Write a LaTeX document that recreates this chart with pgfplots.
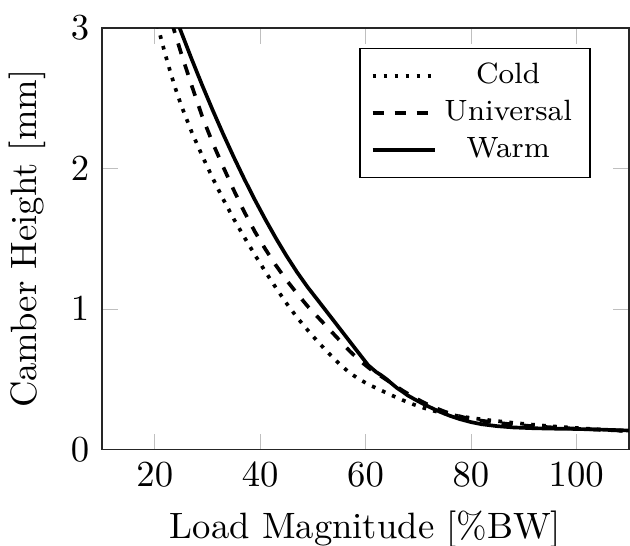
\documentclass[border=0pt]{standalone}
\usepackage{pgfplots}
\pgfplotsset{compat=1.18}
\begin{document}
\begin{tikzpicture}
\begin{axis}[
  scale only axis,
  width=143.6pt, height=114.9pt,
  xmin=10, xmax=110, ymin=0, ymax=3,
  xtick={20,40,60,80,100}, ytick={0,1,2,3},
  xlabel={Load Magnitude [\%BW]},
  ylabel={Camber Height [mm]},
  tick style={black!25},
  axis line style={black!85},
  legend style={font=\footnotesize, at={(0.928,0.953)}, anchor=north east, draw=black, row sep=-1pt},
]
\addplot[black, line width=1pt, dotted] coordinates {
(20,3.10)(21,2.95)(22,2.81)(23,2.68)(24,2.56)(25,2.45)(27,2.26)(29,2.09)(31,1.93)(33,1.78)(35,1.64)(37,1.51)(39,1.385)(41,1.265)(43,1.15)(45,1.04)(47,0.94)(49,0.85)(51,0.765)(53,0.685)(55,0.61)(57,0.545)(59,0.495)(61,0.455)(63,0.42)(65,0.385)(67,0.352)(69,0.322)(71,0.296)(73,0.274)(75,0.256)(77,0.242)(79,0.23)(82,0.215)(85,0.202)(88,0.19)(91,0.179)(95,0.166)(100,0.153)(105,0.141)(110,0.13)
};
\addlegendentry{Cold}
\addplot[black, line width=1pt, dashed] coordinates {
(23.2,3.04)(25,2.82)(27,2.59)(29,2.37)(31,2.18)(33,2.01)(35,1.845)(37,1.69)(39,1.55)(41,1.425)(43,1.31)(45,1.205)(47,1.11)(49,1.02)(51,0.94)(53,0.86)(55,0.78)(57,0.70)(59,0.63)(61,0.57)(63,0.52)(65,0.47)(67,0.42)(69,0.375)(71,0.335)(73,0.30)(75,0.27)(77,0.245)(79,0.225)(82,0.205)(85,0.19)(88,0.178)(91,0.168)(95,0.158)(100,0.148)(105,0.14)(110,0.132)
};
\addlegendentry{Universal}
\addplot[black, line width=1pt] coordinates {
(24.3,3.04)(25,2.972)(27,2.778)(29,2.592)(31,2.414)(33,2.243)(35,2.080)(37,1.924)(39,1.776)(41,1.636)(43,1.503)(45,1.378)(47,1.262)(49,1.156)(51,1.060)(53,0.963)(55,0.866)(57,0.769)(59,0.672)(60.5,0.600)(62,0.552)(63,0.528)(64,0.500)(65,0.468)(66,0.437)(67,0.412)(68,0.385)(70,0.343)(72,0.305)(74,0.270)(76,0.240)(78,0.215)(80,0.195)(82,0.180)(85,0.166)(88,0.157)(92,0.151)(96,0.148)(100,0.146)(105,0.141)(110,0.135)
};
\addlegendentry{Warm}
\end{axis}
\pgfresetboundingbox
\path ([shift={(-27.85pt,-26.2pt)}]current axis.south west) rectangle ([shift={(0.3pt,7.64pt)}]current axis.north east);
\end{tikzpicture}
\end{document}
